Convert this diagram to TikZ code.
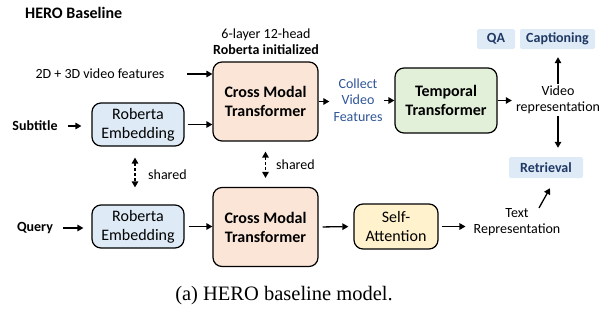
\documentclass[tikz,border=0pt]{standalone}
\usepackage{fontspec}
\setmainfont{Carlito}
\newfontfamily\capfont{Liberation Serif}
\usetikzlibrary{calc,arrows.meta}

\definecolor{peach}{HTML}{FBE5D6}
\definecolor{embblue}{HTML}{DEEBF7}
\definecolor{tgreen}{HTML}{E2F0D9}
\definecolor{attyellow}{HTML}{FFF2CC}
\definecolor{navy}{HTML}{1F3864}
\definecolor{linkblue}{HTML}{2F5597}

\tikzset{
  box/.style={draw, line width=1.2pt, rounded corners=9pt, align=center, inner sep=0pt},
  bigtext/.style={font=\fontsize{16}{19}\selectfont},
  bigbold/.style={font=\fontsize{16}{19}\selectfont\bfseries},
  smalltext/.style={font=\fontsize{14}{16.5}\selectfont, align=center, inner sep=0pt},
  task/.style={fill=embblue, rounded corners=2pt, inner sep=0pt, text=navy,
    font=\fontsize{14}{15}\selectfont\bfseries, minimum height=20pt},
  arr/.style={->, line width=1.3pt},
}

\begin{document}
\begin{tikzpicture}[x=1pt, y=-1pt, >={Triangle[length=6pt, width=6.5pt]}]
  \useasboundingbox (0,0) rectangle (609,322);

  % title and side labels
  \node[smalltext, font=\fontsize{16}{18}\selectfont\bfseries, anchor=west] (title) at (25,13) {HERO Baseline};
  \node[smalltext] (layers) at (266,41.5) {6-layer 12-head\\\textbf{Roberta initialized}};
  \node[smalltext] (feat) at (100,74) {2D + 3D video features};
  \node[smalltext, font=\fontsize{14}{16}\selectfont\bfseries] (sub) at (35,126) {Subtitle};
  \node[smalltext, font=\fontsize{14}{16}\selectfont\bfseries] (query) at (35,228) {Query};

  % boxes
  \node[box, bigtext, fill=embblue, minimum width=92pt, minimum height=43pt] (emb1) at (138,124.5) {Roberta\\Embedding};
  \node[box, bigbold, fill=peach, minimum width=105pt, minimum height=79pt] (cmt1) at (265.5,101.5) {Cross Modal\\Transformer};
  \node[box, bigbold, fill=tgreen, minimum width=102pt, minimum height=65pt] (temp) at (446,100.5) {Temporal\\Transformer};
  \node[box, bigtext, fill=embblue, minimum width=92pt, minimum height=43pt] (emb2) at (138,226.5) {Roberta\\Embedding};
  \node[box, bigbold, fill=peach, minimum width=105pt, minimum height=79pt] (cmt2) at (265.5,227) {Cross Modal\\Transformer};
  \node[box, bigtext, fill=attyellow, minimum width=84pt, minimum height=45pt] (att) at (396,226.5) {Self-\\Attention};

  \node[smalltext, text=linkblue] (collect) at (358,100) {Collect\\Video\\Features};
  \node[smalltext] (vidrep) at (558,100) {Video\\representation};
  \node[smalltext] (txtrep) at (517,222) {Text\\Representation};

  % tasks
  \node[task, minimum width=38pt] (qa) at (496,39) {QA};
  \node[task, minimum width=75pt] (cap) at (557.5,39) {Captioning};
  \node[task, minimum width=74pt, minimum height=21pt] (ret) at (546,167.5) {Retrieval};

  \coordinate (featend) at (187,74);
  \node[smalltext, anchor=west] (sh1) at (148,175) {shared};
  \node[smalltext, anchor=west] (sh2) at (276,165) {shared};

  % connectors
  \draw[arr] (featend) -- (cmt1.west |- featend);
  \draw[arr, shorten <=10pt, shorten >=10pt] (sub.east) -- (emb1.west |- sub.east);
  \draw[arr] ($(emb1.east)+(3,0)$) -- (cmt1.west |- emb1.east);
  \draw[arr, shorten >=4pt] (cmt1.east) -- (collect.west |- cmt1.east);
  \draw[arr, shorten <=1pt] (collect.east |- temp.west) -- (temp.west);
  \draw[arr, shorten >=4pt] (temp.east) -- (vidrep.west |- temp.east);
  \draw[arr, shorten >=8pt, shorten <=2pt] (vidrep.north) -- (vidrep.north |- cap.south);
  \draw[arr, shorten >=9pt, shorten <=2pt] (vidrep.south) -- (vidrep.south |- ret.north);
  \draw[arr, shorten <=10pt, shorten >=8pt] (query.east) -- (emb2.west |- query.east);
  \draw[arr, shorten <=4pt] (emb2.east) -- (cmt2.west |- emb2.east);
  \draw[arr, shorten <=4pt, shorten >=5pt] (cmt2.east) -- (att.west);
  \draw[arr, shorten <=3pt, shorten >=8pt] (att.east) -- (txtrep.west |- att.east);
  \draw[arr] ($(txtrep.north)+(22,0)$) -- ($(ret.south)+(4,10)$);
  \draw[<->, line width=1.3pt, dash pattern=on 3pt off 2pt, shorten <=11pt, shorten >=17pt] ($(emb1.south)+(-3,0)$) -- ($(emb2.north)+(-3,0)$);
  \draw[<->, line width=1.3pt, dash pattern=on 3pt off 2pt, shorten <=10pt, shorten >=9pt] (cmt1.south) -- (cmt2.north);

  % caption
  \node[font=\fontsize{20.5}{24}\selectfont\capfont] (caption) at (284,296) {(a) HERO baseline model.};
\end{tikzpicture}
\end{document}
